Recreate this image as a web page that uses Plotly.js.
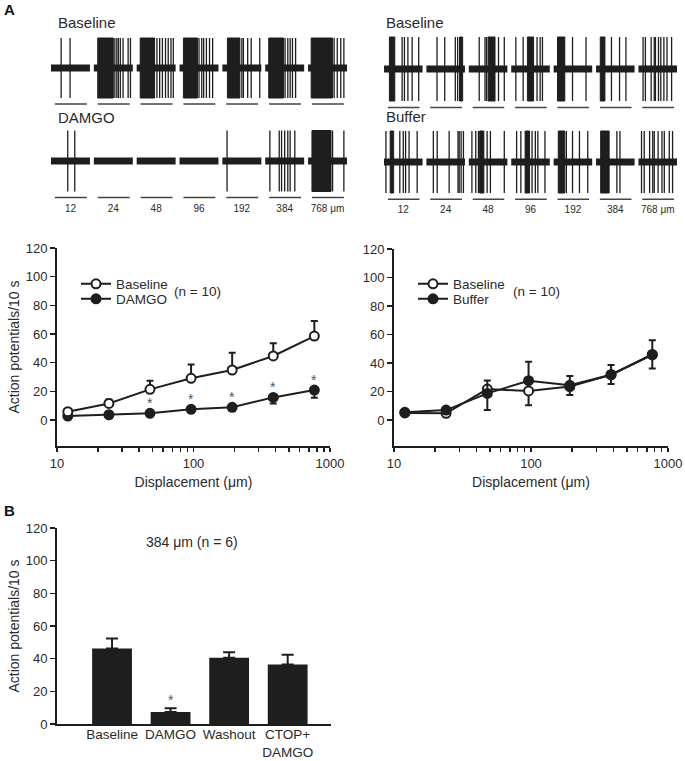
<!DOCTYPE html>
<html>
<head>
<meta charset="utf-8">
<script src="https://cdn.plot.ly/plotly-3.0.1.min.js"></script>
<style>body{margin:0;background:#fff}</style>
</head>
<body>
<div id="fig" style="width:685px;height:761px"></div>
<script>
// displacement steps (um)
var displacement = [12, 24, 48, 96, 192, 384, 768];

// A, left chart: baseline vs DAMGO (action potentials / 10 s)
var damgoBaseline = [5.8, 11.6, 21.4, 29.1, 34.9, 44.7, 58.6];
var damgoBaselineErr = [1, 2.8, 6, 9.7, 12.1, 8.8, 10.4];
var damgoBaselineErrDown = [0, 0, 0, 0, 0, 0, 0];
var damgo = [2.8, 3.7, 4.7, 7.5, 8.9, 15.8, 20.9];
var damgoErrUp = [0, 0, 0, 0, 0, 0, 0];
var damgoErr = [1, 1, 1.5, 2.1, 2.6, 4.2, 5.3];
var damgoSig = [false, false, true, true, true, true, true];

// A, right chart: baseline vs buffer
var bufBaseline = [5, 4.7, 21.7, 20.4, 23.5, 31.8, 45.8];
var bufBaselineErr = [1, 1, 14.7, 10, 6, 6.5, 9.7];
var buffer = [5.4, 7, 18.7, 27.6, 24.4, 31.8, 46];
var bufferErr = [1, 1, 9, 13.3, 6.5, 6.8, 10];

// B: 384 um, n = 6
var conditions = ['Baseline', 'DAMGO', 'Washout', 'CTOP+<br>DAMGO'];
var barValues = [46.2, 7.3, 40.5, 36.5];
var barErr = [6.1, 2.3, 3.5, 5.9];
var barSig = [false, true, false, false];

// raw recordings: spike times (s) and dense bursts [start, end] per 10 s sweep
var leftBaseSpikes = [[2.6, 4.9], [5.4, 5.9, 6.3, 6.8, 7.5, 8.8, 9.4], [5.2, 5.9, 6.6, 7.4, 8.1, 8.8, 9.4],
  [5.0, 5.7, 6.2, 6.9, 7.7, 8.5], [5.0, 5.4, 6.5, 7.4, 9.6], [5.1, 5.8, 6.4, 7.0, 7.8], [6.7, 7.5, 8.4, 9.2]];
var leftBaseBursts = [[], [[1.0, 5.0]], [[0.9, 4.6]], [[1.0, 4.6]], [[1.3, 4.5]], [[0.9, 4.7]], [[0.8, 6.3]]];
var leftDamgoSpikes = [[4.3, 6.1], [], [], [], [1.2], [1.2, 3.6, 4.2, 5.0, 5.8, 6.4, 7.6], [6.3, 9.2]];
var leftDamgoBursts = [[], [], [], [], [], [], [[1.0, 5.9]]];
var rightBaseSpikes = [[4.7, 5.3, 6.2, 7.3, 9.0], [2.75, 4.75, 7.5, 8.1], [2.7, 4.2, 4.6, 7.7, 9.2],
  [1.2, 3.1, 6.7, 7.5, 8.1], [4.9, 8.4], [4.0, 6.1, 7.75], [1.2, 1.8, 3.3, 4.1, 4.4, 5.2, 5.8, 6.6, 7.4, 8.6]];
var rightBaseBursts = [[[1.4, 2.8]], [[8.6, 9.4]], [[5.0, 6.8]], [[4.2, 5.8]], [[1.0, 2.9]], [[1.1, 2.3]], []];
var bufferSpikes = [[0.5, 4.1, 5.0, 5.6, 6.5, 8.6], [1.8, 2.8, 5.9, 8.2, 8.5, 9.0, 9.6], [0.8, 1.8, 2.5, 4.75, 5.6, 9.2],
  [1.4, 2.5, 5.4, 6.25, 6.9, 8.75], [3.3, 4.9, 6.7, 8.85], [5.4, 6.2], [0.8, 1.5, 2.9, 3.7, 4.1, 5.1, 6.1, 6.7, 8.0, 8.85]];
var bufferBursts = [[[1.6, 2.5]], [], [[2.8, 3.9]], [[3.6, 4.75]], [[1.2, 2.9]], [[1.2, 3.4]], []];
var sweepLen = 10, sweepPitch = 11;
var stimulus = [1.0, 9.2];

var W = 685, H = 761;
var ink = '#1e1e1e', txt = '#2a2a2a';
function px(a, b) { return [a / W, b / W]; }
function py(top, bottom) { return [1 - bottom / H, 1 - top / H]; }

var data = [];
var layout = {
  width: W, height: H,
  margin: {l: 0, r: 0, t: 0, b: 0, autoexpand: false},
  paper_bgcolor: 'white', plot_bgcolor: 'rgba(0,0,0,0)',
  font: {family: 'Liberation Sans, Arial, sans-serif', color: txt, size: 13},
  showlegend: true,
  annotations: []
};

// recording rows
var rows = [
  {sp: leftBaseSpikes, bu: leftBaseBursts, n: 4, x0: 51, x1: 347, c: 68, u: 30, lab: false},
  {sp: leftDamgoSpikes, bu: leftDamgoBursts, n: 5, x0: 51, x1: 347, c: 161, u: 30.5, lab: true},
  {sp: rightBaseSpikes, bu: rightBaseBursts, n: 6, x0: 384, x1: 677, c: 69, u: 32, lab: false},
  {sp: bufferSpikes, bu: bufferBursts, n: 7, x0: 384, x1: 677, c: 162, u: 31, lab: true}
];
rows.forEach(function (r) {
  var xa = 'x' + r.n, ya = 'y' + r.n;
  var bx = [], by = [], sx = [], sy = [], fx = [], fy = [], tx = [], ty = [], centers = [];
  for (var k = 0; k < r.sp.length; k++) {
    var off = k * sweepPitch;
    bx.push(off, off + sweepLen, null); by.push(0, 0, null);
    tx.push(off + stimulus[0], off + stimulus[1], null); ty.push(-1.2, -1.2, null);
    r.sp[k].forEach(function (t) { sx.push(off + t, off + t, null); sy.push(-1, 1, null); });
    r.bu[k].forEach(function (b) {
      fx.push(off + b[0], off + b[1], off + b[1], off + b[0], off + b[0], null);
      fy.push(-1, -1, 1, 1, -1, null);
    });
    centers.push(off + sweepLen / 2);
  }
  var common = {xaxis: xa, yaxis: ya, showlegend: false, hoverinfo: 'skip', mode: 'lines'};
  data.push(Object.assign({x: bx, y: by, line: {color: ink, width: 7}}, common));
  data.push(Object.assign({x: sx, y: sy, line: {color: ink, width: 1.3}}, common));
  data.push(Object.assign({x: fx, y: fy, fill: 'toself', fillcolor: ink, line: {color: ink, width: 1}}, common));
  data.push(Object.assign({x: tx, y: ty, line: {color: '#444', width: 1.5}}, common));
  layout['xaxis' + r.n] = {
    domain: px(r.x0, r.x1), range: [0, 7 * sweepPitch - 1], anchor: ya,
    showgrid: false, zeroline: false, showline: false, ticks: '',
    showticklabels: r.lab, tickvals: centers,
    ticktext: displacement.map(function (d, i) { return i === 6 ? d + ' \u03bcm' : String(d); }),
    tickfont: {size: 10, color: txt}, fixedrange: true
  };
  layout['yaxis' + r.n] = {
    domain: py(r.c - 1.1 * r.u, r.c + 1.3 * r.u), range: [-1.3, 1.1], autorange: false, anchor: xa,
    visible: false, fixedrange: true
  };
});

// line charts
var logTicks = [10, 20, 30, 40, 50, 60, 70, 80, 90, 100, 200, 300, 400, 500, 600, 700, 800, 900, 1000];
function logAxis(d) {
  return {
    type: 'log', domain: d, range: [1, 3], autorange: false, showgrid: false, zeroline: false,
    showline: true, linecolor: ink, linewidth: 2, ticks: 'outside', ticklen: 4, tickwidth: 1.5, tickcolor: ink,
    tickvals: logTicks, ticktext: logTicks.map(function (v) { return (v === 10 || v === 100 || v === 1000) ? String(v) : ''; }),
    tickfont: {size: 13, color: txt}, automargin: false,
    title: {text: 'Displacement (\u03bcm)', font: {size: 14, color: txt}, standoff: 8}
  };
}
function valAxis(d, rng, title) {
  return {
    domain: d, range: rng, autorange: false, showgrid: false, zeroline: false,
    showline: true, linecolor: ink, linewidth: 2, ticks: 'outside', ticklen: 5, tickwidth: 1.5, tickcolor: ink,
    tickvals: [0, 20, 40, 60, 80, 100, 120], tickfont: {size: 13, color: txt}, automargin: false,
    title: {text: title, font: {size: 14, color: txt}, standoff: 3}
  };
}
layout.xaxis = Object.assign(logAxis(px(57, 330)), {anchor: 'y'});
layout.yaxis = Object.assign(valAxis(py(248, 446), [-18.1, 120], 'Action potentials/10 s'), {anchor: 'x'});
layout.xaxis2 = Object.assign(logAxis(px(394, 668)), {anchor: 'y2'});
layout.yaxis2 = Object.assign(valAxis(py(249, 446), [-18.2, 120], ''), {anchor: 'x2'});

function series(x, y, up, down, open, xa, ya, name, leg) {
  return {
    x: x, y: y, type: 'scatter', mode: 'lines+markers', xaxis: xa, yaxis: ya, name: name, legend: leg,
    line: {color: ink, width: 2},
    marker: {symbol: 'circle', size: 9, color: open ? 'white' : ink, line: {color: ink, width: 2}},
    error_y: {type: 'data', symmetric: false, array: up, arrayminus: down, color: ink, thickness: 2, width: 3.5},
    hoverinfo: 'x+y'
  };
}
data.push(series(displacement, damgo, damgoErrUp, damgoErr, false, 'x', 'y', 'DAMGO', 'legend2'));
data.push(series(displacement, damgoBaseline, damgoBaselineErr, damgoBaselineErrDown, true, 'x', 'y', 'Baseline', 'legend'));
data.push(series(displacement, bufBaseline, damgoBaselineErrDown, bufBaselineErr, true, 'x2', 'y2', 'Baseline', 'legend3'));
data.push(series(displacement, buffer, bufferErr, damgoBaselineErrDown, false, 'x2', 'y2', 'Buffer', 'legend4'));

function leg(x, y) {
  return {x: x / W, y: 1 - y / H, xanchor: 'left', yanchor: 'middle', bgcolor: 'rgba(0,0,0,0)',
    borderwidth: 0, font: {size: 13.5, color: txt}, itemclick: false, itemdoubleclick: false};
}
layout.legend = leg(76, 284);
layout.legend2 = leg(76, 299);
layout.legend3 = leg(413, 284);
layout.legend4 = leg(413, 299);

damgo.forEach(function (v, i) {
  if (!damgoSig[i]) return;
  layout.annotations.push({xref: 'x', yref: 'y', x: Math.log10(displacement[i]), y: v, text: '*',
    showarrow: false, yanchor: 'bottom', yshift: 0, font: {size: 14, color: '#555'}});
});

// bar chart
data.push({
  type: 'bar', x: conditions, y: barValues, xaxis: 'x3', yaxis: 'y3', width: 0.68, showlegend: false,
  marker: {color: ink, line: {width: 0}},
  error_y: {type: 'data', symmetric: false, array: barErr, arrayminus: [0, 0, 0, 0], color: ink, thickness: 2, width: 6}
});
layout.xaxis3 = {
  domain: px(57, 331), anchor: 'y3', type: 'category', range: [-0.94, 3.74], autorange: false,
  showline: true, linecolor: ink, linewidth: 2, ticks: '', showgrid: false, zeroline: false,
  tickfont: {size: 13.5, color: txt}, ticklabelstandoff: -3, automargin: false
};
layout.yaxis3 = Object.assign(valAxis(py(528, 724), [0, 120], 'Action potentials/10 s'), {anchor: 'x3'});
barValues.forEach(function (v, i) {
  if (!barSig[i]) return;
  layout.annotations.push({xref: 'x3', yref: 'y3', x: i, y: v + barErr[i], text: '*',
    showarrow: false, yanchor: 'bottom', yshift: -2, font: {size: 14, color: '#555'}});
});

// labels
function label(text, x, y, size, opts) {
  layout.annotations.push(Object.assign({xref: 'paper', yref: 'paper', x: x / W, y: 1 - y / H, text: text,
    showarrow: false, xanchor: 'left', yanchor: 'middle', font: {size: size, color: txt}}, opts || {}));
}
label('<b>A</b>', 2, 10, 15, {font: {size: 15, color: '#111'}});
label('<b>B</b>', 2, 511, 15, {font: {size: 15, color: '#111'}});
label('Baseline', 56, 22, 15);
label('DAMGO', 56, 117, 15);
label('Baseline', 384, 22, 15);
label('Buffer', 384, 116, 15);
label('(n = 10)', 197, 291, 13.5, {xanchor: 'center'});
label('(n = 10)', 536, 291, 13.5, {xanchor: 'center'});
label('384 \u03bcm (n = 6)', 192, 542, 14, {xanchor: 'center'});

Plotly.newPlot('fig', data, layout, {staticPlot: true});
</script>
</body>
</html>
